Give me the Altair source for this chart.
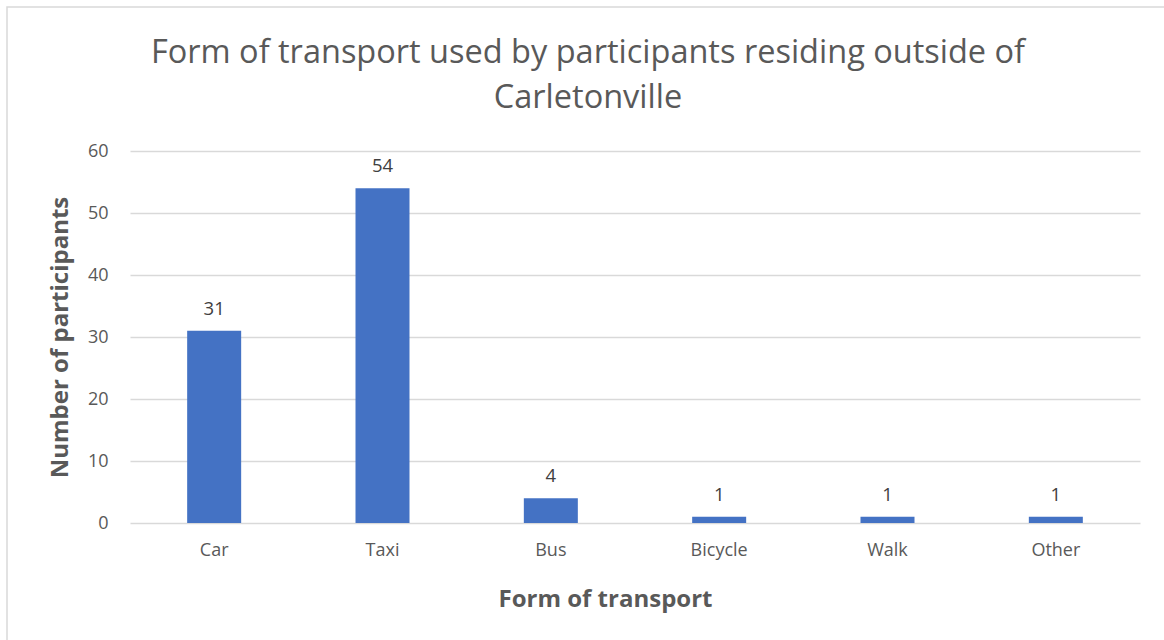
import altair as alt
import pandas as pd

categories = ["Car", "Taxi", "Bus", "Bicycle", "Walk", "Other"]
values = [31, 54, 4, 1, 1, 1]
title_lines = ["Form of transport used by participants residing outside of", "Carletonville"]

df = pd.DataFrame({"mode": categories, "count": values})

FONT = "Open Sans"
GREY = "#595959"

base = alt.Chart(df).encode(
    x=alt.X("mode:N", sort=categories,
            scale=alt.Scale(paddingInner=0, paddingOuter=0),
            axis=alt.Axis(title="Form of transport", labelAngle=0, labelFontSize=18,
                          labelColor=GREY, labelFont=FONT, labelPadding=18,
                          titleFont=FONT, titleFontSize=24, titleFontWeight="bold",
                          titleColor=GREY, titleX=475, titleY=83, titleBaseline="alphabetic",
                          domain=False, ticks=False, grid=False)),
)

bars = base.mark_bar(color="#4472C4", size=54).encode(
    y=alt.Y("count:Q", scale=alt.Scale(domain=[0, 60]),
            axis=alt.Axis(title="Number of participants", values=[0, 10, 20, 30, 40, 50, 60],
                          labelFontSize=18, labelColor=GREY, labelFont=FONT, labelPadding=22,
                          titleFont=FONT, titleFontSize=24, titleFontWeight="bold",
                          titleColor=GREY, titleX=-70, titleY=186, titleAngle=-90,
                          titleBaseline="middle",
                          domain=False, ticks=False, grid=True, gridColor="#d9d9d9",
                          gridWidth=1.3)),
)

labels = base.mark_text(dy=-12, baseline="bottom", fontSize=18.5, font=FONT, color="#404040").encode(
    y="count:Q", text="count:Q"
)

title_df = pd.DataFrame({"t": ["\n".join(title_lines)]})
title = alt.Chart(title_df).mark_text(
    font=FONT, fontSize=32.5, color=GREY, align="center", baseline="alphabetic",
    lineBreak="\n", lineHeight=45,
).encode(text="t:N", x=alt.value(458), y=alt.value(-88))

frame = alt.Chart(title_df).mark_rect(fill=None, stroke="#d9d9d9", strokeWidth=1.5).encode(
    x=alt.value(-123), x2=alt.value(1100), y=alt.value(-144), y2=alt.value(600)
)

chart = alt.layer(frame, bars, labels, title).properties(
    width=1010, height=372,
    autosize=alt.AutoSizeParams(type="none"),
    padding={"left": 130, "top": 151, "right": 24, "bottom": 117},
).configure(background="white", view=alt.ViewConfig(stroke=None))

chart.save("out.html", embed_options={"renderer": "svg", "actions": False})
